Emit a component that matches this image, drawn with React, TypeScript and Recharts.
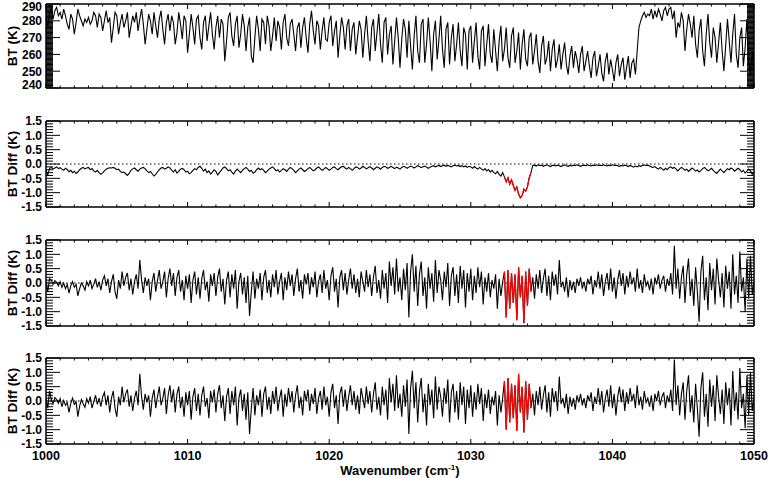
import React from 'react';
import { LineChart, Line, XAxis, YAxis, ReferenceLine } from 'recharts';

const WN_START = 1000;
const WN_STEP = 0.125;
const RED_START = 1032.375;
const RED_END = 1034.25;

// Brightness temperature (K), sampled every 0.125 cm-1 from 1000 to 1050
const BT = [
  282, 277, 284, 287, 281, 286, 288, 283,
  285, 281, 287, 283, 278, 275, 284, 281,
  272, 279, 287, 283, 280, 277, 281, 279,
  282, 278, 280, 285, 283, 276, 284, 282,
  274, 280, 286, 279, 282, 267, 276, 285,
  283, 272, 279, 284, 276, 280, 285, 270,
  277, 283, 279, 285, 274, 281, 287, 278,
  266, 275, 284, 280, 272, 285, 277, 270,
  281, 286, 275, 266, 279, 284, 274, 283,
  279, 266, 273, 285, 278, 269, 283, 280,
  261, 272, 284, 276, 266, 281, 283, 270,
  263, 279, 283, 268, 277, 285, 272, 263,
  276, 283, 270, 281, 278, 256, 268, 282,
  285, 271, 265, 278, 283, 264, 272, 284,
  277, 262, 276, 282, 259, 255, 270, 283,
  275, 262, 281, 279, 266, 283, 277, 262,
  271, 282, 268, 280, 276, 263, 279, 284,
  270, 265, 278, 281, 272, 262, 276, 279,
  264, 276, 282, 270, 261, 278, 286, 274,
  266, 280, 277, 263, 274, 282, 269, 268,
  279, 283, 265, 274, 280, 258, 271, 282,
  276, 263, 277, 281, 262, 275, 279, 260,
  270, 280, 275, 258, 272, 283, 268, 256,
  276, 281, 262, 273, 284, 266, 255, 279,
  282, 260, 272, 277, 254, 268, 282, 270,
  252, 269, 281, 275, 258, 280, 265, 251,
  271, 283, 262, 255, 278, 281, 255, 266,
  282, 268, 250, 272, 280, 257, 269, 283,
  263, 252, 275, 279, 254, 270, 278, 256,
  266, 279, 262, 253, 276, 272, 251, 274,
  277, 255, 268, 279, 259, 251, 274, 277,
  253, 266, 278, 260, 255, 275, 262, 250,
  268, 277, 256, 263, 276, 258, 252, 271,
  276, 255, 262, 273, 251, 266, 275, 257,
  253, 270, 273, 254, 262, 272, 256, 249,
  265, 271, 254, 258, 268, 250, 263, 269,
  252, 257, 266, 251, 260, 267, 254, 248,
  259, 265, 252, 262, 257, 249, 260, 265,
  250, 256, 262, 253, 246, 258, 262, 247,
  253, 260, 249, 244, 256, 261, 248, 257,
  251, 244, 255, 260, 247, 254, 258, 245,
  252, 259, 246, 255, 257, 248, 262, 276,
  280, 283, 285, 282, 284, 283, 287, 281,
  286, 282, 287, 284, 280, 286, 288, 283,
  287, 288, 281, 286, 270, 279, 276, 285,
  280, 262, 275, 284, 278, 270, 283, 266,
  258, 274, 281, 262, 253, 272, 284, 267,
  258, 276, 270, 255, 267, 279, 262, 250,
  265, 281, 268, 255, 272, 284, 260, 252,
  270, 276, 253, 264, 281, 256, 248, 262,
  243,
];

// BT difference, panel 2 (K)
const DIFF_A = [
  -0.20, -0.38, -0.15, -0.12, -0.18, -0.14, -0.10, -0.16,
  -0.13, -0.18, -0.22, -0.15, -0.19, -0.27, -0.22, -0.30,
  -0.25, -0.33, -0.28, -0.20, -0.15, -0.12, -0.17, -0.14,
  -0.12, -0.20, -0.16, -0.24, -0.28, -0.22, -0.30, -0.36,
  -0.31, -0.24, -0.18, -0.15, -0.13, -0.14, -0.12, -0.15,
  -0.20, -0.18, -0.26, -0.30, -0.28, -0.34, -0.40, -0.33,
  -0.22, -0.17, -0.14, -0.20, -0.25, -0.18, -0.14, -0.12,
  -0.16, -0.24, -0.30, -0.26, -0.34, -0.42, -0.36, -0.28,
  -0.20, -0.14, -0.12, -0.18, -0.15, -0.10, -0.14, -0.22,
  -0.28, -0.20, -0.32, -0.26, -0.18, -0.15, -0.20, -0.28,
  -0.25, -0.34, -0.30, -0.22, -0.16, -0.20, -0.12, -0.08,
  -0.15, -0.25, -0.18, -0.30, -0.24, -0.35, -0.28, -0.20,
  -0.26, -0.38, -0.30, -0.22, -0.14, -0.10, -0.16, -0.24,
  -0.20, -0.28, -0.35, -0.25, -0.18, -0.24, -0.30, -0.22,
  -0.16, -0.12, -0.18, -0.26, -0.22, -0.32, -0.28, -0.20,
  -0.14, -0.20, -0.16, -0.22, -0.30, -0.25, -0.18, -0.14,
  -0.10, -0.16, -0.24, -0.20, -0.28, -0.22, -0.16, -0.20,
  -0.26, -0.18, -0.12, -0.16, -0.22, -0.30, -0.24, -0.18,
  -0.14, -0.20, -0.26, -0.22, -0.16, -0.12, -0.18, -0.24,
  -0.20, -0.14, -0.10, -0.16, -0.22, -0.18, -0.12, -0.16,
  -0.22, -0.18, -0.12, -0.10, -0.16, -0.20, -0.14, -0.10,
  -0.08, -0.14, -0.18, -0.12, -0.16, -0.22, -0.16, -0.10,
  -0.12, -0.18, -0.14, -0.08, -0.12, -0.17, -0.13, -0.09,
  -0.14, -0.20, -0.15, -0.10, -0.13, -0.18, -0.12, -0.08,
  -0.10, -0.15, -0.12, -0.08, -0.12, -0.16, -0.11, -0.14,
  -0.18, -0.12, -0.08, -0.10, -0.15, -0.11, -0.07, -0.10,
  -0.14, -0.10, -0.06, -0.09, -0.13, -0.10, -0.07, -0.11,
  -0.15, -0.11, -0.08, -0.06, -0.10, -0.07, -0.05, -0.09,
  -0.06, -0.04, -0.08, -0.05, -0.07, -0.10, -0.06, -0.04,
  -0.07, -0.05, -0.09, -0.06, -0.10, -0.07, -0.12, -0.08,
  -0.10, -0.15, -0.09, -0.14, -0.18, -0.12, -0.17, -0.22,
  -0.16, -0.24, -0.19, -0.28, -0.22, -0.30, -0.34, -0.26,
  -0.36, -0.42, -0.30, -0.45, -0.62, -0.48, -0.70, -0.55,
  -0.75, -0.92, -0.80, -1.05, -1.18, -1.10, -0.88, -0.95,
  -0.80, -0.48, -0.30, -0.05, -0.04, -0.07, -0.03, -0.06,
  -0.04, -0.08, -0.05, -0.03, -0.06, -0.09, -0.05, -0.04,
  -0.07, -0.04, -0.06, -0.09, -0.05, -0.03, -0.06, -0.08,
  -0.05, -0.07, -0.04, -0.06, -0.03, -0.05, -0.08, -0.05,
  -0.04, -0.06, -0.03, -0.05, -0.07, -0.04, -0.06, -0.03,
  -0.05, -0.04, -0.06, -0.03, -0.05, -0.07, -0.04, -0.06,
  -0.03, -0.05, -0.04, -0.06, -0.08, -0.05, -0.07, -0.04,
  -0.06, -0.09, -0.05, -0.08, -0.11, -0.07, -0.10, -0.06,
  -0.08, -0.05, -0.03, -0.06, -0.04, -0.07, -0.10, -0.12,
  -0.09, -0.14, -0.18, -0.12, -0.16, -0.22, -0.15, -0.20,
  -0.13, -0.10, -0.15, -0.12, -0.18, -0.24, -0.17, -0.12,
  -0.16, -0.22, -0.18, -0.26, -0.20, -0.14, -0.19, -0.25,
  -0.21, -0.28, -0.22, -0.16, -0.12, -0.18, -0.24, -0.20,
  -0.15, -0.22, -0.28, -0.33, -0.25, -0.18, -0.24, -0.30,
  -0.22, -0.16, -0.20, -0.14, -0.18, -0.25, -0.20, -0.15,
  -0.20, -0.28, -0.22, -0.32, -0.25, -0.18, -0.24, -0.36,
  -0.30,
];

// BT difference, panel 3 (K)
const DIFF_B = [
  0.05, -0.30, 0.15, 0.10, -0.05, 0.08, 0.02, -0.10,
  0.05, -0.15, 0.00, -0.20, -0.05, -0.35, -0.10, 0.05,
  -0.15, -0.05, -0.45, -0.20, 0.00, -0.10, -0.25, 0.05,
  -0.10, 0.10, -0.20, -0.05, 0.15, -0.15, 0.05, -0.25,
  0.10, 0.25, -0.10, 0.15, -0.35, 0.05, 0.30, -0.30,
  -0.55, 0.10, -0.20, 0.40, -0.10, 0.20, 0.35, -0.25,
  0.15, -0.40, 0.05, 0.30, -0.20, 0.80, 0.10, -0.35,
  0.20, -0.10, 0.15, -0.60, 0.05, 0.35, -0.30, 0.10,
  0.45, -0.20, 0.05, 0.40, -0.50, 0.15, 0.50, -0.10,
  0.35, -0.45, 0.20, 0.45, -0.30, 0.10, -0.60, 0.25,
  -0.20, 0.30, -0.70, 0.10, 0.40, -0.40, 0.20, -0.55,
  0.15, 0.45, -0.25, 0.05, -0.65, 0.30, -0.10, 0.35,
  -0.45, 0.20, 0.50, -0.30, 0.15, -0.75, 0.10, 0.40,
  -0.50, 0.30, -0.20, 0.45, -0.90, 0.05, 0.35, -0.40,
  0.20, -0.70, 0.25, -1.15, -0.30, 0.40, -0.55, 0.15,
  -0.20, 0.35, -0.60, 0.20, 0.45, -0.35, 0.10, -0.50,
  0.30, -0.15, 0.45, -0.40, 0.05, 0.35, -0.60, 0.20,
  -0.25, 0.40, -0.10, 0.30, -0.45, 0.15, 0.50, -0.30,
  0.10, -0.55, 0.30, -0.05, 0.35, -0.40, 0.20, -0.15,
  0.40, -0.50, 0.05, 0.30, -0.35, 0.45, -0.20, 0.10,
  -0.60, 0.25, 0.55, -0.30, 0.15, -0.85, 0.20, 0.45,
  -0.25, 0.35, -0.40, 0.10, 0.50, -0.20, 0.30, -0.35,
  0.15, -0.50, 0.40, 0.05, -0.30, 0.45, -0.15, 0.30,
  -0.45, 0.20, 0.60, -0.35, 0.10, -0.55, 0.45, -0.20,
  0.35, -0.70, 0.75, -0.10, 0.55, -0.40, 0.85, -0.30,
  0.20, -0.60, 0.50, -0.25, 0.70, -1.20, 0.40, 1.00,
  -0.30, 0.60, -0.80, 0.30, 0.75, -0.45, 0.20, -0.90,
  0.55, -0.20, 0.35, -0.65, 0.80, -0.35, 0.45, 0.10,
  -0.60, 0.40, -0.15, 0.70, -0.80, 0.25, 0.55, -0.45,
  0.30, -0.70, 0.60, -0.20, 0.45, -0.85, 0.35, -0.30,
  0.50, -0.60, 0.25, -0.35, 0.55, -0.15, 0.40, -0.75,
  0.20, -0.30, 0.35, -0.50, 0.10, -0.20, 0.30, -0.90,
  0.15, -0.45, 0.05, 0.40, -1.20, 0.45, -0.90, 0.35,
  -0.70, 0.30, -1.30, 0.55, -0.50, 0.25, -1.40, 0.40,
  -0.80, 0.50, -0.30, 0.20, -0.55, 0.30, -0.20, 0.45,
  -0.35, 0.15, 0.50, -0.45, 0.25, -0.60, 0.40, -0.10,
  0.30, -0.40, 0.80, -0.15, 0.05, -0.30, 0.20, -0.50,
  0.10, -0.25, 0.05, -0.35, 0.15, -0.10, 0.20, -0.20,
  0.05, -0.30, 0.15, -0.05, 0.25, -0.40, 0.10, -0.15,
  0.40, -0.20, 0.30, -0.45, 0.05, 0.35, -0.25, 0.50,
  -0.30, 0.20, -0.55, 0.10, 0.45, -0.10, 0.35, -0.40,
  0.25, -0.15, 0.40, -0.05, 0.20, -0.30, 0.50, -0.20,
  0.10, -0.35, 0.30, -0.10, 0.05, -0.25, 0.15, -0.40,
  0.20, -0.05, 0.30, -0.20, 0.10, 0.25, -0.30, 0.15,
  -0.10, 0.35, -0.40, 1.30, -0.20, 0.50, -0.55, 0.20,
  0.60, -0.70, 0.30, 0.85, -0.45, 0.15, -0.80, 0.55,
  -0.30, -1.35, 0.40, 0.95, -0.60, 0.20, -0.95, 0.70,
  -0.25, 0.50, -0.75, 0.85, 0.10, -0.50, 0.35, -0.85,
  0.60, -0.20, 0.40, -0.90, 1.00, -0.40, 0.25, -0.70,
  1.10, -0.30, 0.20, -1.00, 0.85, -0.55, 0.95, -0.40,
  0.05,
];

// BT difference, panel 4 (K)
const DIFF_C = [
  0.10, -0.25, 0.35, 0.05, -0.10, 0.12, 0.05, -0.08,
  0.08, -0.20, 0.02, -0.15, -0.05, -0.40, -0.08, 0.10,
  -0.12, -0.02, -0.55, -0.18, 0.05, -0.10, -0.22, 0.08,
  -0.08, 0.15, -0.25, -0.02, 0.20, -0.12, 0.10, -0.20,
  0.15, 0.30, -0.15, 0.20, -0.40, 0.10, 0.35, -0.25,
  -0.55, 0.15, -0.15, 0.50, -0.05, 0.25, 0.40, -0.20,
  0.20, -0.35, 0.10, 0.35, -0.15, 0.95, 0.15, -0.30,
  0.25, -0.05, 0.20, -0.55, 0.10, 0.40, -0.25, 0.15,
  0.50, -0.15, 0.10, 0.45, -0.45, 0.20, 0.55, -0.05,
  0.40, -0.40, 0.25, 0.50, -0.25, 0.15, -0.55, 0.30,
  -0.15, 0.35, -0.65, 0.15, 0.45, -0.35, 0.25, -0.50,
  0.20, 0.50, -0.20, 0.10, -0.60, 0.35, -0.05, 0.40,
  -0.40, 0.25, 0.55, -0.25, 0.20, -0.70, 0.15, 0.45,
  -0.45, 0.35, -0.15, 0.50, -0.85, 0.10, 0.40, -0.35,
  0.25, -0.65, 0.30, -1.15, -0.25, 0.45, -0.50, 0.20,
  -0.15, 0.40, -0.55, 0.25, 0.50, -0.30, 0.15, -0.45,
  0.35, -0.10, 0.50, -0.35, 0.10, 0.40, -0.55, 0.25,
  -0.20, 0.45, -0.05, 0.35, -0.40, 0.20, 0.55, -0.25,
  0.15, -0.50, 0.35, 0.00, 0.40, -0.35, 0.25, -0.10,
  0.45, -0.45, 0.10, 0.35, -0.30, 0.50, -0.15, 0.15,
  -0.55, 0.30, 0.60, -0.25, 0.20, -0.80, 0.25, 0.50,
  -0.20, 0.40, -0.35, 0.15, 0.55, -0.15, 0.35, -0.30,
  0.20, -0.45, 0.45, 0.10, -0.25, 0.50, -0.10, 0.35,
  -0.40, 0.25, 0.65, -0.30, 0.15, -0.50, 0.50, -0.15,
  0.40, -0.65, 0.80, -0.05, 0.60, -0.35, 0.90, -0.25,
  0.25, -0.55, 0.55, -0.20, 0.75, -1.15, 0.45, 1.05,
  -0.25, 0.65, -0.75, 0.35, 0.80, -0.40, 0.25, -0.85,
  0.60, -0.15, 0.40, -0.60, 0.85, -0.30, 0.50, 0.15,
  -0.55, 0.45, -0.10, 0.75, -0.75, 0.30, 0.60, -0.40,
  0.35, -0.65, 0.65, -0.15, 0.50, -0.80, 0.40, -0.25,
  0.55, -0.55, 0.30, -0.30, 0.60, -0.10, 0.45, -0.70,
  0.25, -0.25, 0.40, -0.45, 0.15, -0.15, 0.35, -0.85,
  0.20, -0.40, 0.10, 0.70, -1.00, 0.80, -0.75, 0.60,
  -0.60, 0.55, -1.05, 0.95, -0.40, 0.50, -1.10, 0.70,
  -0.65, 0.60, -0.25, 0.25, -0.50, 0.35, -0.15, 0.50,
  -0.30, 0.20, 0.55, -0.40, 0.30, -0.55, 0.45, -0.05,
  0.35, -0.35, 0.85, -0.10, 0.10, -0.25, 0.25, -0.45,
  0.15, -0.20, 0.10, -0.30, 0.20, -0.05, 0.25, -0.15,
  0.10, -0.25, 0.20, 0.00, 0.30, -0.35, 0.15, -0.10,
  0.45, -0.15, 0.35, -0.40, 0.10, 0.40, -0.20, 0.55,
  -0.25, 0.25, -0.50, 0.15, 0.50, -0.05, 0.40, -0.35,
  0.30, -0.10, 0.45, 0.00, 0.25, -0.25, 0.55, -0.15,
  0.15, -0.30, 0.35, -0.05, 0.10, -0.20, 0.20, -0.35,
  0.25, 0.00, 0.35, -0.15, 0.15, 0.30, -0.25, 0.20,
  -0.05, 0.40, -0.35, 1.45, -0.15, 0.55, -0.50, 0.25,
  0.65, -0.65, 0.35, 0.90, -0.40, 0.20, -0.75, 0.60,
  -0.25, -1.25, 0.45, 1.00, -0.55, 0.25, -0.90, 0.75,
  -0.20, 0.55, -0.70, 0.90, 0.15, -0.45, 0.40, -0.80,
  0.65, -0.15, 0.45, -0.85, 1.05, -0.35, 0.30, -0.65,
  1.15, -0.25, 0.25, -0.95, 0.90, -0.50, 1.00, -0.35,
  0.10,
];

const WN_TICKS = [1000, 1010, 1020, 1030, 1040, 1050];
const BT_TICKS = [240, 250, 260, 270, 280, 290];
const BT_LABELS = ['240', '250', '260', '270', '280', '290'];
const DIFF_TICKS = [-1.5, -1.0, -0.5, 0.0, 0.5, 1.0, 1.5];
const DIFF_LABELS = ['-1.5', '-1.0', '-0.5', '0.0', '0.5', '1.0', '1.5'];

const FONT = '"Liberation Sans", Arial, Helvetica, sans-serif';

const steps = (lo: number, hi: number, step: number) => {
  const out: number[] = [];
  const n = Math.round((hi - lo) / step);
  for (let i = 0; i <= n; i++) out.push(+(lo + i * step).toFixed(4));
  return out;
};
const X_MINOR = steps(1000, 1050, 1);
const BT_MINOR = steps(240, 290, 0.5);
const DIFF_MINOR = steps(-1.5, 1.5, 0.1);

const WN = BT.map((_, i) => WN_START + i * WN_STEP);
const inRed = (w: number) => w >= RED_START - 1e-9 && w <= RED_END + 1e-9;

const ROWS = WN.map((w, i) => ({
  wn: w,
  bt: BT[i],
  a: DIFF_A[i],
  aRed: inRed(w) ? DIFF_A[i] : null,
  b: DIFF_B[i],
  bRed: inRed(w) ? DIFF_B[i] : null,
  c: DIFF_C[i],
  cRed: inRed(w) ? DIFF_C[i] : null,
}));

const near = (a: number, b: number) => Math.abs(a - b) < 1e-6;

function makeYTick(side: 'l' | 'r', majors: number[], labels: string[], domain: [number, number], topShift: number, botShift: number) {
  return (props: any) => {
    const { x, y, payload } = props;
    const v = payload.value;
    const mi = majors.findIndex((t) => near(t, v));
    const len = mi >= 0 ? 14 : 7;
    const dir = side === 'l' ? 1 : -1;
    let label = null;
    if (side === 'l' && mi >= 0) {
      let shift = 0;
      if (near(v, domain[1])) shift = topShift;
      if (near(v, domain[0])) shift = -botShift;
      label = (
        <text x={x - 4} y={y + shift + 4.3} textAnchor="end" fontFamily={FONT} fontWeight="bold" fontSize={12} fill="#000">
          {labels[mi]}
        </text>
      );
    }
    return (
      <g>
        <line x1={x} y1={y} x2={x + dir * len} y2={y} stroke="#000" strokeWidth={1} />
        {label}
      </g>
    );
  };
}

function makeXTick(side: 'b' | 't', showLabels: boolean) {
  return (props: any) => {
    const { x, y, payload } = props;
    const v = payload.value;
    const major = WN_TICKS.some((t) => near(t, v));
    const len = major ? 5 : 2.5;
    const dir = side === 'b' ? -1 : 1;
    return (
      <g>
        <line x1={x} y1={y} x2={x} y2={y + dir * len} stroke="#000" strokeWidth={1} />
        {showLabels && major && side === 'b' ? (
          <text x={x} y={y + 15.5} textAnchor="middle" fontFamily={FONT} fontWeight="bold" fontSize={12.5} fill="#000">
            {String(v)}
          </text>
        ) : null}
      </g>
    );
  };
}

function YTitle(props: any) {
  const { viewBox, text } = props;
  const cx = 12;
  const cy = viewBox.y + viewBox.height / 2;
  return (
    <text x={cx} y={cy} transform={`rotate(-90 ${cx} ${cy})`} textAnchor="middle" dominantBaseline="central" fontFamily={FONT} fontWeight="bold" fontSize={13.5} fill="#000">
      {text}
    </text>
  );
}

function XTitle(props: any) {
  const { viewBox } = props;
  const cx = viewBox.x + viewBox.width / 2;
  const y = viewBox.y + 31;
  return (
    <text x={cx} y={y} textAnchor="middle" fontFamily={FONT} fontWeight="bold" fontSize={13} fill="#000">
      <tspan>Wavenumber (cm</tspan>
      <tspan dy={-5} fontSize={8}>-1</tspan>
      <tspan dy={5}>)</tspan>
    </text>
  );
}

type PanelProps = {
  plotTop: number;
  plotH: number;
  topPad: number;
  bottomPad: number;
  dataKey: string;
  redKey?: string;
  domain: [number, number];
  minor: number[];
  majors: number[];
  labels: string[];
  topShift: number;
  botShift: number;
  title: string;
  zeroLine: boolean;
  showX: boolean;
};

function Panel(p: PanelProps) {
  const height = p.topPad + p.plotH + p.bottomPad;
  return (
    <div style={{ position: 'absolute', left: 0, top: p.plotTop - p.topPad, width: 768, height }}>
      <LineChart width={768} height={height} data={ROWS} margin={{ top: 0, right: 0, bottom: 0, left: 0 }}>
        <XAxis
          xAxisId="b"
          orientation="bottom"
          dataKey="wn"
          type="number"
          domain={[1000, 1050]}
          allowDataOverflow
          ticks={X_MINOR}
          interval={0}
          tickSize={0}
          tickMargin={0}
          tickLine={false}
          tick={makeXTick('b', p.showX)}
          axisLine={{ stroke: '#000', strokeWidth: 1.5 }}
          height={p.bottomPad}
          label={p.showX ? <XTitle /> : undefined}
        />
        <XAxis
          xAxisId="t"
          orientation="top"
          dataKey="wn"
          type="number"
          domain={[1000, 1050]}
          allowDataOverflow
          ticks={X_MINOR}
          interval={0}
          tickSize={0}
          tickMargin={0}
          tickLine={false}
          tick={makeXTick('t', false)}
          axisLine={{ stroke: '#000', strokeWidth: 1.5 }}
          height={p.topPad}
        />
        <YAxis
          yAxisId="l"
          orientation="left"
          type="number"
          domain={p.domain}
          allowDataOverflow
          ticks={p.minor}
          interval={0}
          tickSize={0}
          tickMargin={0}
          tickLine={false}
          tick={makeYTick('l', p.majors, p.labels, p.domain, p.topShift, p.botShift)}
          axisLine={{ stroke: '#000', strokeWidth: 1.5 }}
          width={46}
          label={<YTitle text={p.title} />}
        />
        <YAxis
          yAxisId="r"
          orientation="right"
          type="number"
          domain={p.domain}
          allowDataOverflow
          ticks={p.minor}
          interval={0}
          tickSize={0}
          tickMargin={0}
          tickLine={false}
          tick={makeYTick('r', p.majors, p.labels, p.domain, p.topShift, p.botShift)}
          axisLine={{ stroke: '#000', strokeWidth: 1.5 }}
          width={14}
        />
        {p.zeroLine ? (
          <ReferenceLine xAxisId="b" yAxisId="l" y={0} stroke="#000" strokeWidth={1} strokeDasharray="1.5 2.5" />
        ) : null}
        <Line xAxisId="b" yAxisId="l" type="linear" dataKey={p.dataKey} stroke="#000" strokeWidth={1.1} dot={false} isAnimationActive={false} />
        {p.redKey ? (
          <Line xAxisId="b" yAxisId="l" type="linear" dataKey={p.redKey} stroke="#f00" strokeWidth={1.2} dot={false} isAnimationActive={false} />
        ) : null}
        <Line xAxisId="t" yAxisId="r" type="linear" dataKey={p.dataKey} stroke="none" dot={false} isAnimationActive={false} />
      </LineChart>
    </div>
  );
}

export default function App() {
  return (
    <div style={{ position: 'absolute', left: 0, top: 0, width: 768, height: 478, background: '#fff', overflow: 'hidden' }}>
      <Panel plotTop={4} plotH={84} topPad={4} bottomPad={8} dataKey="bt" domain={[240, 290]} minor={BT_MINOR} majors={BT_TICKS} labels={BT_LABELS} topShift={3.1} botShift={3} title="BT (K)" zeroLine={false} showX={false} />
      <Panel plotTop={121} plotH={86} topPad={8} bottomPad={8} dataKey="a" redKey="aRed" domain={[-1.5, 1.5]} minor={DIFF_MINOR} majors={DIFF_TICKS} labels={DIFF_LABELS} topShift={0} botShift={0} title="BT Diff (K)" zeroLine showX={false} />
      <Panel plotTop={240} plotH={86} topPad={8} bottomPad={8} dataKey="b" redKey="bRed" domain={[-1.5, 1.5]} minor={DIFF_MINOR} majors={DIFF_TICKS} labels={DIFF_LABELS} topShift={0} botShift={0} title="BT Diff (K)" zeroLine showX={false} />
      <Panel plotTop={358} plotH={86} topPad={8} bottomPad={34} dataKey="c" redKey="cRed" domain={[-1.5, 1.5]} minor={DIFF_MINOR} majors={DIFF_TICKS} labels={DIFF_LABELS} topShift={0} botShift={0} title="BT Diff (K)" zeroLine showX />
    </div>
  );
}
